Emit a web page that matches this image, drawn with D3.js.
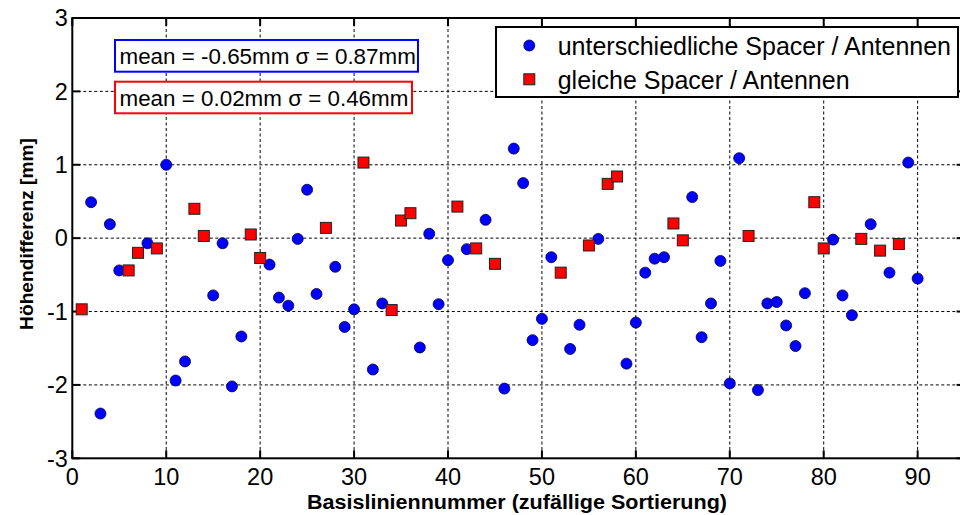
<!DOCTYPE html>
<html><head><meta charset="utf-8">
<script src="https://cdn.jsdelivr.net/npm/d3@7"></script>
<style>body{margin:0;background:#fff} svg{display:block;font-family:"Liberation Sans",Arial,sans-serif}</style>
</head><body><svg id="c" width="960" height="515"></svg>
<script>
// Data
const blueX = [2,3,4,5,8,10,11,12,15,16,17,18,21,22,23,24,25,26,28,29,30,32,33,37,38,39,40,42,44,46,47,48,49,50,51,53,54,56,59,60,61,62,63,66,67,68,69,70,71,73,74,75,76,77,78,81,82,83,85,87,89,90];
const blueY = [0.49,-2.39,0.19,-0.44,-0.07,1.00,-1.94,-1.68,-0.78,-0.07,-2.02,-1.34,-0.36,-0.81,-0.92,-0.01,0.66,-0.76,-0.39,-1.21,-0.97,-1.79,-0.89,-1.49,0.06,-0.90,-0.30,-0.15,0.25,-2.05,1.22,0.75,-1.39,-1.10,-0.26,-1.51,-1.18,-0.01,-1.71,-1.15,-0.47,-0.28,-0.26,0.56,-1.35,-0.89,-0.31,-1.98,1.09,-2.07,-0.89,-0.87,-1.19,-1.47,-0.75,-0.02,-0.78,-1.05,0.19,-0.47,1.03,-0.55];
const redX = [1,6,7,9,13,14,19,20,27,31,34,35,36,41,43,45,52,55,57,58,64,65,72,79,80,84,86,88];
const redY = [-0.97,-0.44,-0.20,-0.14,0.40,0.03,0.05,-0.27,0.14,1.03,-0.98,0.24,0.34,0.43,-0.14,-0.35,-0.47,-0.10,0.74,0.84,0.20,-0.03,0.03,0.49,-0.14,-0.01,-0.17,-0.08];
const xTicks = [0,10,20,30,40,50,60,70,80,90];
const yTicks = [-3,-2,-1,0,1,2,3];
const seriesNames = ["unterschiedliche Spacer / Antennen","gleiche Spacer / Antennen"];
const statLabels = ["mean = -0.65mm \u03C3 = 0.87mm","mean = 0.02mm \u03C3 = 0.46mm"];
const xTitle = "Basisliniennummer (zufällige Sortierung)";
const yTitle = "Höhendifferenz [mm]";

const svg = d3.select("#c");
const L = 72.3, R = 964.6, T = 18, B = 458.3;
const x = d3.scaleLinear().domain([0,95]).range([L,R]);
const y = d3.scaleLinear().domain([-3,3]).range([B,T]);

// grid
const g = svg.append("g");
g.selectAll(".vg").data(xTicks.filter(d=>d>0)).join("line")
  .attr("x1",d=>x(d)).attr("x2",d=>x(d)).attr("y1",T).attr("y2",B)
  .attr("stroke","#000").attr("stroke-width",1).attr("stroke-dasharray","3,2.5");
g.selectAll(".hg").data(yTicks.filter(d=>d>-3&&d<3)).join("line")
  .attr("x1",L).attr("x2",R).attr("y1",d=>y(d)).attr("y2",d=>y(d))
  .attr("stroke","#000").attr("stroke-width",1).attr("stroke-dasharray","3,2.5");

// stat boxes
const boxes = [{t:statLabels[0],c:"#0000ff",y0:40,y1:71.7,x1:418},{t:statLabels[1],c:"#ff0000",y0:81.7,y1:113.3,x1:412}];
boxes.forEach(b=>{
  svg.append("rect").attr("x",115).attr("y",b.y0).attr("width",b.x1-115).attr("height",b.y1-b.y0)
    .attr("fill","#fff").attr("stroke",b.c).attr("stroke-width",2);
  svg.append("text").attr("x",119.5).attr("y",(b.y0+b.y1)/2+8).attr("font-size",22.4).attr("fill","#000").text(b.t);
});

// axes box with inward ticks
const ax = svg.append("g").attr("stroke","#000").attr("stroke-width",2).attr("fill","none");
ax.append("rect").attr("x",L).attr("y",T).attr("width",R-L).attr("height",B-T);
const tl = 8;
xTicks.forEach(d=>{
  ax.append("line").attr("x1",x(d)).attr("x2",x(d)).attr("y1",B).attr("y2",B-tl);
  ax.append("line").attr("x1",x(d)).attr("x2",x(d)).attr("y1",T).attr("y2",T+tl);
});
yTicks.forEach(d=>{
  ax.append("line").attr("x1",L).attr("x2",L+tl).attr("y1",y(d)).attr("y2",y(d));
  ax.append("line").attr("x1",R).attr("x2",R-tl).attr("y1",y(d)).attr("y2",y(d));
});

// tick labels
svg.selectAll(".xl").data(xTicks).join("text")
  .attr("x",d=>x(d)).attr("y",B+26.5).attr("text-anchor","middle").attr("font-size",23.5).text(d=>d);
svg.selectAll(".yl").data(yTicks).join("text")
  .attr("x",L-4.5).attr("y",d=>y(d)+8.3).attr("text-anchor","end").attr("font-size",23.5).text(d=>d);

// titles
svg.append("text").attr("x",307).attr("y",509).attr("font-size",20).attr("font-weight","bold")
  .attr("textLength",420).attr("lengthAdjust","spacingAndGlyphs").text(xTitle);
svg.append("text").attr("transform","translate(33,234) rotate(-90)").attr("text-anchor","middle").attr("font-size",19.2).attr("font-weight","bold").text(yTitle);

// points
const blue = blueX.map((v,i)=>({x:v,y:blueY[i]}));
const red = redX.map((v,i)=>({x:v,y:redY[i]}));
svg.append("g").selectAll("circle").data(blue).join("circle")
  .attr("cx",d=>x(d.x)).attr("cy",d=>y(d.y)).attr("r",5.5)
  .attr("fill","#0000ff").attr("stroke","#000040").attr("stroke-width",0.8);
const s = 11;
svg.append("g").selectAll("rect").data(red).join("rect")
  .attr("x",d=>x(d.x)-s/2).attr("y",d=>y(d.y)-s/2).attr("width",s).attr("height",s)
  .attr("fill","#ff0000").attr("stroke","#222").attr("stroke-width",1);

// legend
const lg = svg.append("g");
lg.append("rect").attr("x",496).attr("y",27).attr("width",462).attr("height",70)
  .attr("fill","#fff").attr("stroke","#000").attr("stroke-width",2);
lg.append("circle").attr("cx",529.3).attr("cy",45.5).attr("r",5.5).attr("fill","#0000ff").attr("stroke","#000040").attr("stroke-width",0.8);
lg.append("rect").attr("x",529.3-s/2).attr("y",79.3-s/2).attr("width",s).attr("height",s).attr("fill","#ff0000").attr("stroke","#222");
lg.append("text").attr("x",557.7).attr("y",54.5).attr("font-size",25).text(seriesNames[0]);
lg.append("text").attr("x",557.7).attr("y",88.5).attr("font-size",25).text(seriesNames[1]);
</script></body></html>
